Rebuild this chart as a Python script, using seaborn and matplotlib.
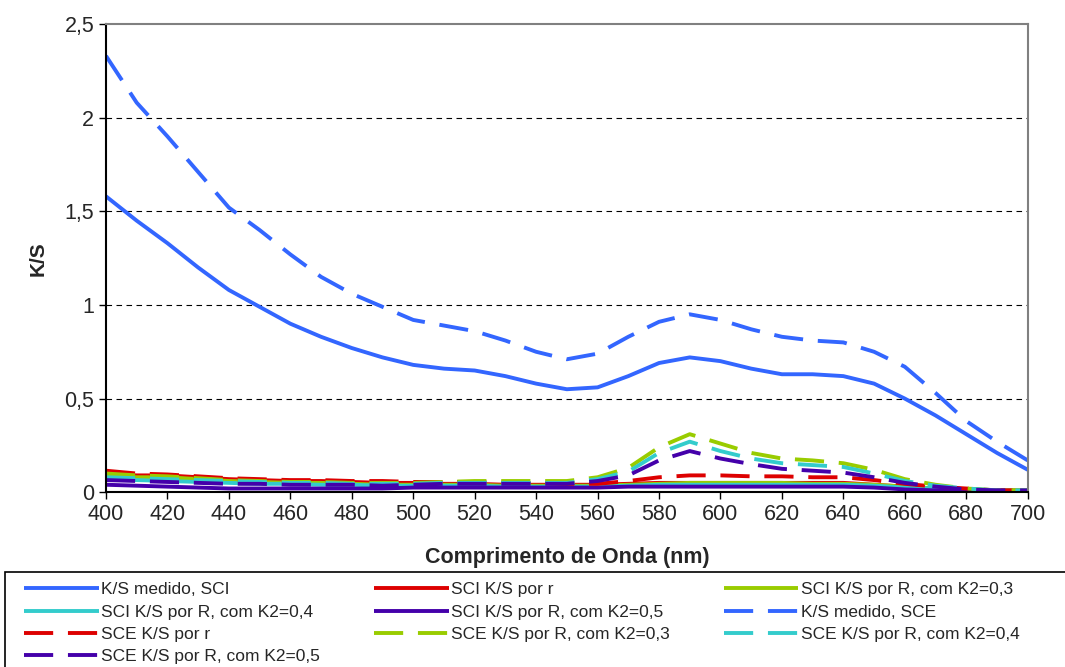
import numpy as np
import pandas as pd
import seaborn as sns
import matplotlib
matplotlib.use('Agg')
import matplotlib.pyplot as plt
from matplotlib.patches import Rectangle

# wavelengths, nm
wl = list(range(400, 701, 10))

sci_medido = [1.58, 1.45, 1.33, 1.20, 1.08, 0.99, 0.90, 0.83, 0.77, 0.72, 0.68, 0.66, 0.65, 0.62, 0.58, 0.55,
              0.56, 0.62, 0.69, 0.72, 0.70, 0.66, 0.63, 0.63, 0.62, 0.58, 0.50, 0.41, 0.31, 0.21, 0.12]
sci_r = [0.10, 0.09, 0.09, 0.08, 0.07, 0.065, 0.06, 0.06, 0.055, 0.05, 0.05, 0.045, 0.045, 0.04, 0.04, 0.04,
         0.04, 0.045, 0.05, 0.05, 0.05, 0.05, 0.05, 0.05, 0.05, 0.04, 0.03, 0.02, 0.015, 0.01, 0.01]
sci_k03 = [0.09, 0.08, 0.08, 0.07, 0.06, 0.055, 0.05, 0.05, 0.045, 0.04, 0.04, 0.04, 0.04, 0.035, 0.035, 0.035,
           0.035, 0.04, 0.045, 0.05, 0.05, 0.05, 0.05, 0.045, 0.045, 0.04, 0.03, 0.02, 0.015, 0.01, 0.01]
sci_k04 = [0.07, 0.065, 0.06, 0.055, 0.05, 0.045, 0.045, 0.04, 0.04, 0.035, 0.035, 0.035, 0.035, 0.03, 0.03, 0.03,
           0.03, 0.035, 0.04, 0.04, 0.04, 0.04, 0.04, 0.04, 0.04, 0.035, 0.025, 0.02, 0.01, 0.01, 0.005]
sci_k05 = [0.04, 0.035, 0.03, 0.025, 0.02, 0.02, 0.02, 0.02, 0.02, 0.02, 0.025, 0.025, 0.025, 0.025, 0.025, 0.025,
           0.025, 0.03, 0.03, 0.03, 0.03, 0.03, 0.03, 0.03, 0.03, 0.025, 0.015, 0.01, 0.005, 0.005, 0.005]
sce_medido = [2.33, 2.08, 1.90, 1.71, 1.52, 1.40, 1.27, 1.15, 1.06, 0.99, 0.92, 0.89, 0.86, 0.81, 0.75, 0.71,
              0.74, 0.83, 0.91, 0.95, 0.92, 0.87, 0.83, 0.81, 0.80, 0.75, 0.67, 0.53, 0.38, 0.27, 0.17]
sce_r = [0.115, 0.10, 0.095, 0.085, 0.075, 0.07, 0.065, 0.065, 0.06, 0.06, 0.055, 0.055, 0.055, 0.05, 0.05, 0.045,
         0.045, 0.06, 0.08, 0.09, 0.09, 0.085, 0.085, 0.08, 0.08, 0.065, 0.045, 0.03, 0.02, 0.01, 0.01]
sce_k03 = [0.10, 0.09, 0.085, 0.075, 0.065, 0.06, 0.055, 0.055, 0.05, 0.05, 0.05, 0.055, 0.06, 0.06, 0.06, 0.06,
           0.08, 0.13, 0.24, 0.31, 0.26, 0.21, 0.18, 0.17, 0.155, 0.12, 0.07, 0.04, 0.02, 0.01, 0.01]
sce_k04 = [0.08, 0.075, 0.07, 0.065, 0.06, 0.055, 0.05, 0.05, 0.045, 0.045, 0.045, 0.05, 0.05, 0.05, 0.05, 0.05,
           0.07, 0.11, 0.21, 0.27, 0.22, 0.18, 0.155, 0.145, 0.135, 0.10, 0.06, 0.035, 0.02, 0.01, 0.01]
sce_k05 = [0.065, 0.06, 0.055, 0.05, 0.045, 0.045, 0.04, 0.04, 0.04, 0.035, 0.04, 0.045, 0.045, 0.045, 0.045, 0.045,
           0.06, 0.09, 0.17, 0.22, 0.18, 0.15, 0.125, 0.115, 0.105, 0.08, 0.05, 0.03, 0.015, 0.01, 0.01]

labels = ['K/S medido, SCI', 'SCI K/S por r', 'SCI K/S por R, com K2=0,3',
          'SCI K/S por R, com K2=0,4', 'SCI K/S por R, com K2=0,5', 'K/S medido, SCE',
          'SCE K/S por r', 'SCE K/S por R, com K2=0,3', 'SCE K/S por R, com K2=0,4',
          'SCE K/S por R, com K2=0,5']
series = [sci_medido, sci_r, sci_k03, sci_k04, sci_k05,
          sce_medido, sce_r, sce_k03, sce_k04, sce_k05]

blue, red, green, cyan, purple = '#3366FF', '#DD0000', '#99CC00', '#33CCCC', '#4400AA'
colors = [blue, red, green, cyan, purple, blue, red, green, cyan, purple]

sns.set_style('white')
plt.rcParams['font.family'] = ['Liberation Sans', 'DejaVu Sans']

fig = plt.figure(figsize=(10.65, 6.67), dpi=100)
ax = fig.add_axes([0.0995, 0.262, 0.8655, 0.702])

handles = []
for i, (lab, vals, c) in enumerate(zip(labels, series, colors)):
    df = pd.DataFrame({'wl': wl, 'ks': vals})
    sns.lineplot(data=df, x='wl', y='ks', ax=ax, color=c, lw=2.8, label=lab, legend=False)
    line = ax.lines[-1]
    if i >= 5:
        line.set_dashes((7.5, 3.8))
    line.set_solid_capstyle('butt')
    line.set_dash_capstyle('butt')
    handles.append(line)

ax.set_xlim(400, 700)
ax.set_ylim(0, 2.5)
ax.set_xticks(range(400, 701, 20))
ax.set_yticks([0, 0.5, 1, 1.5, 2, 2.5])
ax.set_yticklabels(['0', '0,5', '1', '1,5', '2', '2,5'])
ax.tick_params(axis='both', labelsize=15.5, direction='out', length=5, width=1, color='black',
               bottom=True, left=True)
for y in [0.5, 1, 1.5, 2]:
    ax.axhline(y, color='black', lw=0.8, ls=(0, (5, 4)), zorder=0)

ax.spines['left'].set_color('black')
ax.spines['bottom'].set_color('black')
ax.spines['top'].set_color('#808080')
ax.spines['right'].set_color('#808080')
for s in ax.spines.values():
    s.set_linewidth(1.5)

ax.set_xlabel('Comprimento de Onda (nm)', fontsize=15.5, fontweight='bold', labelpad=16)
ax.set_ylabel('K/S', fontsize=15, fontweight='bold', labelpad=12)

# legend frame runs off the right and bottom edges, as in the original
fig.patches.append(Rectangle((5 / 1065, -0.05), 1.1, 0.05 + 95 / 667, transform=fig.transFigure,
                             fill=False, edgecolor='black', lw=1.2))

# legend is filled column-wise; reorder so it reads row-wise like the original
order = [0, 3, 6, 9, 1, 4, 7, 2, 5, 8]
leg = fig.legend([handles[i] for i in order], [labels[i] for i in order],
                 loc='upper left', bbox_to_anchor=(24 / 1065, 1 - 582 / 667),
                 ncol=3, fontsize=12.5, frameon=False, handlelength=4.3,
                 handletextpad=0.15, borderpad=0.0, labelspacing=0.42, columnspacing=3.1,
                 borderaxespad=0.0)

fig.savefig('out.png', dpi=100)
